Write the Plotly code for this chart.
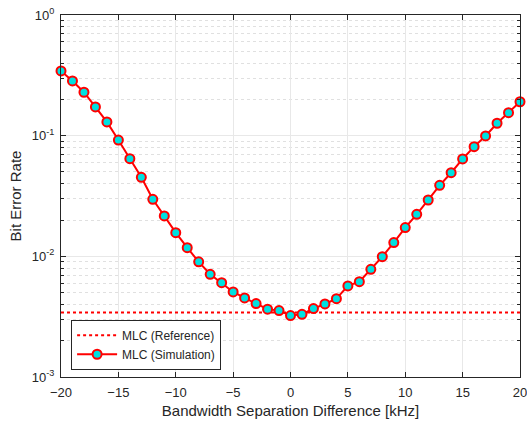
import plotly.graph_objects as go

# Data
bandwidth_diff_khz = list(range(-20, 21))
ber_simulation = [
    0.344, 0.284, 0.229, 0.173, 0.130, 0.092, 0.0645, 0.0452, 0.0297, 0.0216,
    0.0157, 0.0118, 0.0090, 0.0071, 0.00605, 0.00507, 0.00452, 0.00406, 0.00365, 0.00355,
    0.00323, 0.00331, 0.00369, 0.00403, 0.00446, 0.00569, 0.00617, 0.00781, 0.00994, 0.0130,
    0.0173, 0.0223, 0.0293, 0.0388, 0.0493, 0.0641, 0.0811, 0.0995, 0.1267, 0.155, 0.191,
]
ber_reference = 0.00342
x_ticks = [-20, -15, -10, -5, 0, 5, 10, 15, 20]
y_ticks = [1e-3, 1e-2, 1e-1, 1e0]
y_ticktext = ["10<sup>-3</sup>", "10<sup>-2</sup>", "10<sup>-1</sup>", "10<sup>0</sup>"]
y_minor = [m * 10.0 ** e for e in (-3, -2, -1) for m in range(2, 10)]

FONT = "Liberation Sans, Arial, sans-serif"

fig = go.Figure()
fig.add_trace(go.Scatter(
    x=[bandwidth_diff_khz[0], bandwidth_diff_khz[-1]],
    y=[ber_reference, ber_reference],
    mode="lines",
    name="MLC (Reference)",
    line=dict(color="#ff0000", width=2, dash="dot"),
    cliponaxis=False,
))
fig.add_trace(go.Scatter(
    x=bandwidth_diff_khz,
    y=ber_simulation,
    mode="lines+markers",
    name="MLC (Simulation)",
    line=dict(color="#ff0000", width=2),
    marker=dict(symbol="circle", size=9, color="#00e0e0",
                line=dict(color="#ff0000", width=2)),
    cliponaxis=False,
))

axis_common = dict(
    showline=True, linecolor="#262626", linewidth=1, mirror="ticks",
    ticks="inside", ticklen=5, tickcolor="#262626",
    showgrid=True, gridcolor="#e8e8e8", gridwidth=1,
    zeroline=False, automargin=False, ticklabeloverflow="allow",
    tickfont=dict(family=FONT, size=13, color="#262626"),
    title_font=dict(family=FONT, size=15, color="#262626"),
)

fig.update_xaxes(
    range=[-20, 20], tickmode="array", tickvals=x_ticks,
    title_text="Bandwidth Separation Difference [kHz]", title_standoff=6,
    ticklabelstandoff=3,
    **axis_common,
)
fig.update_yaxes(
    type="log", range=[-3, 0], tickmode="array", tickvals=y_ticks, ticktext=y_ticktext,
    title_text="Bit Error Rate", title_standoff=6,
    ticklabelstandoff=3,
    minor=dict(tickmode="array", tickvals=y_minor, ticks="inside", ticklen=3,
               tickcolor="#262626", showgrid=True, gridcolor="#e0e0e0", griddash="dot", gridwidth=1),
    **axis_common,
)

fig.update_layout(
    width=527, height=425,
    margin=dict(l=61, r=7, t=15, b=48),
    paper_bgcolor="white", plot_bgcolor="white",
    showlegend=True,
    legend=dict(
        x=0.022, y=0.02, xanchor="left", yanchor="bottom",
        bgcolor="white", bordercolor="#262626", borderwidth=1,
        font=dict(family=FONT, size=12, color="#262626"),
        tracegroupgap=0, itemwidth=40,
    ),
)

fig.write_html(
    "out.html",
    config={"displayModeBar": False},
    post_script="document.body.style.margin='0';document.body.style.overflow='hidden';",
)
